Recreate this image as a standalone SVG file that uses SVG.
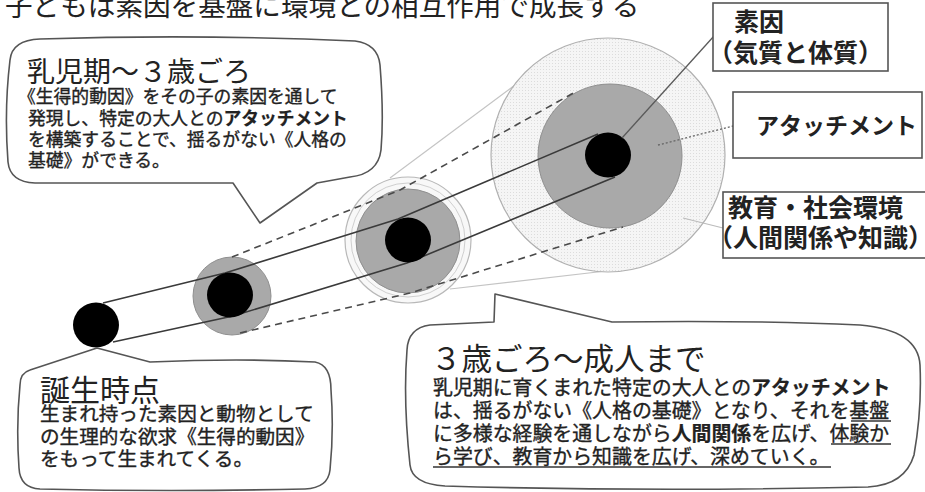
<svg xmlns="http://www.w3.org/2000/svg" width="925" height="492" viewBox="0 0 925 492">
<defs>
<style>
text{font-family:"Noto Sans CJK JP","Noto Sans",sans-serif;fill:#222}
.ttl{font-size:27.6px}
.big{font-weight:400}
.body{font-weight:400;stroke:#222;stroke-width:0.35px}
.em{font-weight:700;stroke-width:0.2px}
.lbl{font-size:25px;font-weight:700}
.bubble{fill:#fff;stroke:#555;stroke-width:1.6;stroke-linejoin:round}
.box{fill:#fff;stroke:#555;stroke-width:1.6}
.blk{fill:#000}
.gry{fill:#a9a9a9;stroke:#8f8f8f;stroke-width:1}
.solid{fill:none;stroke:#3a3a3a;stroke-width:1.6}
.dash{fill:none;stroke:#4a4a4a;stroke-width:1.6;stroke-dasharray:7 5}
.light{fill:none;stroke:#c4c4c4;stroke-width:1.2}
.ul{stroke:#333;stroke-width:1.3}
</style>
<pattern id="dots" width="3" height="3" patternUnits="userSpaceOnUse">
<rect width="3" height="3" fill="#f5f5f5"/>
<rect width="1" height="1" fill="#dcdcdc"/>
</pattern>
</defs>
<rect width="925" height="492" fill="#fff"/>

<g id="title">
<text class="ttl" x="5" y="16">子どもは素因を基盤に環境との相互作用で成長する</text>
</g>

<g id="connectors">
<line class="light" x1="390" y1="178" x2="527" y2="76"/>
<line class="light" x1="450" y1="289" x2="606" y2="271"/>
</g>

<g id="stage3-outer">
<circle cx="608" cy="155" r="117" fill="url(#dots)" stroke="#b0b0b0" stroke-width="1.2"/>
</g>
<g id="stage2-outer">
<circle cx="408" cy="240" r="63" fill="#f8f8f8" stroke="#b8b8b8" stroke-width="1.2"/>
<circle cx="408" cy="240" r="57" fill="none" stroke="#cfcfcf" stroke-width="1"/>
</g>
<g id="stage1-gray"><circle class="gry" cx="232" cy="296" r="39"/></g>
<g id="stage2-gray"><circle class="gry" cx="408" cy="241" r="52"/></g>
<g id="stage3-gray"><circle class="gry" cx="610" cy="156" r="72"/></g>

<g id="connector-lines">
<polyline class="dash" points="232,257 400,190 577,91"/>
<polyline class="dash" points="240,333 410,293 623,227"/>
<polyline class="solid" points="103,303 225,273 398,219 598,134"/>
<polyline class="solid" points="113,342 233,316 407,263 615,177"/>
</g>

<g id="stage0"><ellipse class="blk" cx="96" cy="325" rx="23" ry="22.5"/></g>
<g id="stage1"><ellipse class="blk" cx="230" cy="295" rx="23" ry="22.5"/></g>
<g id="stage2"><ellipse class="blk" cx="408" cy="240" rx="23" ry="22.5"/></g>
<g id="stage3"><ellipse class="blk" cx="608" cy="155" rx="23" ry="22.5"/></g>

<g id="leaders">
<line x1="622" y1="138" x2="714" y2="36" stroke="#5a5a5a" stroke-width="1.3"/>
<line x1="658" y1="145" x2="733" y2="126" stroke="#666" stroke-width="1.3" stroke-dasharray="2 2"/>
<line x1="683" y1="218" x2="723" y2="228" stroke="#bbb" stroke-width="1.2"/>
</g>

<g id="label-soin">
<rect class="box" x="713" y="3" width="175" height="68"/>
<text class="lbl" x="734" y="31">素因</text>
<text class="lbl" x="708" y="62">（気質と体質）</text>
</g>
<g id="label-attachment">
<rect class="box" x="733" y="92" width="189" height="66"/>
<text class="lbl" x="756" y="134" style="font-size:23px">アタッチメント</text>
</g>
<g id="label-env">
<rect class="box" x="723" y="192" width="210" height="66"/>
<text class="lbl" x="728" y="217">教育・社会環境</text>
<text class="lbl" x="708" y="247">（人間関係や知識）</text>
</g>

<g id="callout-infant">
<path class="bubble" d="M10,60 Q12,40 40,39 Q200,34 355,41 Q378,44 380,65 Q384,115 381,150 Q378,174 350,177 L317,183 L260,223 L233,183 L35,183 Q10,182 8,162 Q4,110 10,60 Z"/>
<text class="big" x="27" y="82" style="font-size:28px">乳児期〜３歳ごろ</text>
<text class="body" style="font-size:17.8px">
<tspan x="18" y="103">《生得的動因》をその子の素因を通して</tspan>
<tspan x="28" y="125">発現し、特定の大人との<tspan class="em">アタッチメント</tspan></tspan>
<tspan x="28" y="146">を構築することで、揺るがない《人格の</tspan>
<tspan x="28" y="167">基礎》ができる。</tspan>
</text>
</g>

<g id="callout-birth">
<path class="bubble" d="M20,385 Q20,373 30,370 L97,348 L150,362 Q240,358 315,362 Q331,365 331,390 Q334,430 330,470 Q328,488 305,489 Q170,492 40,489 Q20,488 19,468 Q16,425 20,385 Z"/>
<text class="big" x="40" y="401" style="font-size:30px">誕生時点</text>
<text class="body" style="font-size:19.6px">
<tspan x="40" y="421">生まれ持った素因と動物として</tspan>
<tspan x="40" y="444">の生理的な欲求《生得的動因》</tspan>
<tspan x="40" y="466">をもって生まれてくる。</tspan>
</text>
</g>

<g id="callout-child">
<path class="bubble" d="M407,350 Q408,328 430,325 L494,322 L495,294 L612,322 Q750,320 860,325 Q918,330 920,365 Q922,410 914,455 Q905,485 868,487 Q650,492 445,486 Q412,484 410,465 Q403,400 407,350 Z"/>
<text class="big" x="431" y="370" style="font-size:30.5px">３歳ごろ〜成人まで</text>
<text class="body" style="font-size:19.9px">
<tspan x="433" y="395">乳児期に育くまれた特定の大人との<tspan class="em">アタッチメント</tspan></tspan>
<tspan x="433" y="418">は、揺るがない《人格の基礎》となり、それを基盤</tspan>
<tspan x="433" y="441">に多様な経験を通しながら<tspan class="em">人間関係</tspan>を広げ、体験か</tspan>
<tspan x="433" y="464">ら学び、教育から知識を広げ、深めていく。</tspan>
</text>
<line class="ul" x1="851" y1="421" x2="891" y2="421"/>
<line class="ul" x1="831" y1="444" x2="891" y2="444"/>
<line class="ul" x1="433" y1="467" x2="831" y2="467"/>
</g>
</svg>
